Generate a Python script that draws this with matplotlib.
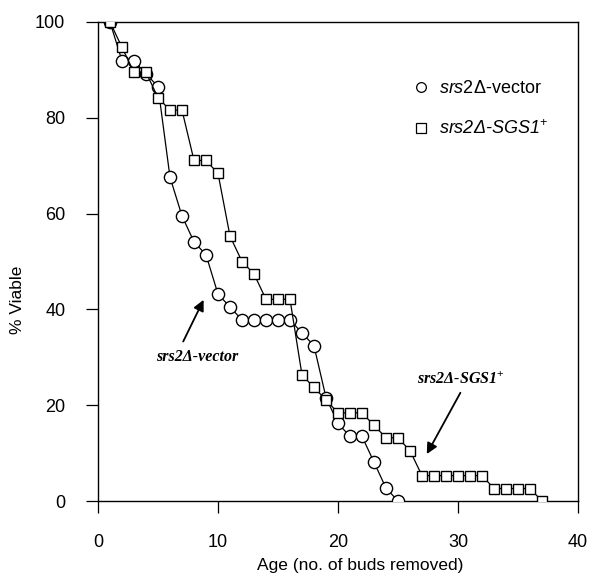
import matplotlib
matplotlib.use("Agg")
import matplotlib.pyplot as plt
from matplotlib.lines import Line2D

plt.rcParams['font.family'] = ['Liberation Sans', 'DejaVu Sans']
plt.rcParams['mathtext.fontset'] = 'custom'
plt.rcParams['mathtext.rm'] = 'Liberation Sans'
plt.rcParams['mathtext.it'] = 'Liberation Sans:italic'
plt.rcParams['mathtext.bf'] = 'Liberation Sans:bold'

# ---- data ----
vector_age = list(range(1, 26))
vector_viable = [100, 91.9, 91.9, 89.2, 86.5, 67.6, 59.5, 54.1, 51.4, 43.2,
                 40.5, 37.8, 37.8, 37.8, 37.8, 37.8, 35.1, 32.4, 21.6, 16.2,
                 13.5, 13.5, 8.1, 2.7, 0]
sgs1_age = list(range(1, 38))
sgs1_viable = [100, 94.7, 89.5, 89.5, 84.2, 81.6, 81.6, 71.1, 71.1, 68.4,
               55.3, 50.0, 47.4, 42.1, 42.1, 42.1, 26.3, 23.7, 21.1, 18.4,
               18.4, 18.4, 15.8, 13.2, 13.2, 10.5, 5.3, 5.3, 5.3, 5.3,
               5.3, 5.3, 2.6, 2.6, 2.6, 2.6, 0]
x_ticks = [0, 10, 20, 30, 40]
y_ticks = [0, 20, 40, 60, 80, 100]
label_vector = r'$\mathit{srs2Δ}$-vector'
label_sgs1 = 'srs2Δ-SGS1$^{+}$'

fig = plt.figure(figsize=(5.89, 5.74), dpi=100)
ax = fig.add_axes([98/589, 1-501/574, 480/589, 479/574])

ax.plot(vector_age, vector_viable, color='black', lw=0.9, marker='o',
        ms=8.8, mfc='white', mec='black', mew=1.0, zorder=3)
ax.plot(sgs1_age, sgs1_viable, color='black', lw=0.9, marker='s',
        ms=7.8, mfc='white', mec='black', mew=1.0, zorder=4)

ax.set_xlim(0, 40)
ax.set_ylim(0, 100)
ax.set_xticks(x_ticks)
ax.set_yticks(y_ticks)
ax.tick_params(direction='out', length=8.5, width=0.9, pad=15, labelsize=13)
for s in ax.spines.values():
    s.set_linewidth(1.0)

ax.set_xlabel('Age (no. of buds removed)', fontsize=12.5)
ax.set_ylabel('% Viable', fontsize=12.5)
ax.xaxis.set_label_coords(0.546, -0.119)
ax.yaxis.set_label_coords(-0.152, 0.42)

handles = [Line2D([], [], ls='none', marker='o', ms=7, mfc='white', mec='black', mew=0.9),
           Line2D([], [], ls='none', marker='s', ms=6.5, mfc='white', mec='black', mew=0.9)]
leg = ax.legend(handles, [label_vector, label_sgs1], frameon=False, fontsize=13,
                loc='upper left', bbox_to_anchor=((398-98)/480, (502-64)/480),
                handlelength=0.8, handletextpad=0.55, labelspacing=1.25)
leg.get_texts()[1].set_fontstyle('italic')

serif = dict(family=['Liberation Serif', 'DejaVu Serif'], fontweight='bold',
             fontstyle='italic', fontsize=11.5, ha='center', va='center')
ax.text(8.25, 30.0, 'srs2Δ-vector', **serif)
ax.text(30.2, 25.4, 'srs2Δ-SGS1$^{+}$', **serif)

arrow = dict(arrowstyle='-|>', color='black', lw=1.3, mutation_scale=16,
             shrinkA=0, shrinkB=0)
ax.annotate('', xy=(8.8, 42.0), xytext=(7.1, 33.3), arrowprops=arrow)
ax.annotate('', xy=(27.4, 9.8), xytext=(30.2, 22.6), arrowprops=arrow)

fig.savefig('out.png', dpi=100)
